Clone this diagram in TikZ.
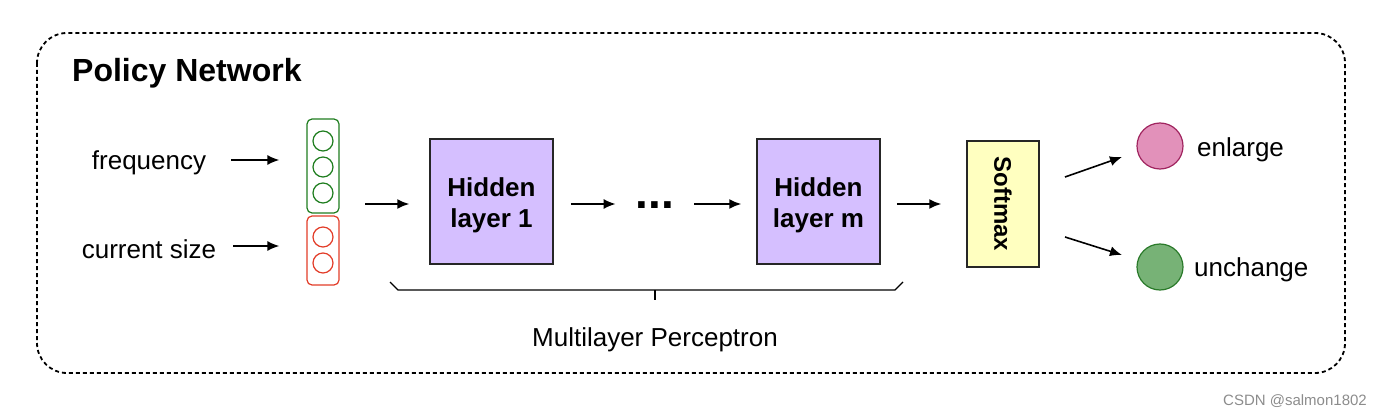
\documentclass[tikz,border=0pt]{standalone}
\usepackage{fontspec}
\setmainfont{Liberation Sans}
\usepackage{tikz}
\usetikzlibrary{arrows.meta}
\usetikzlibrary{positioning}

\definecolor{hiddenfill}{RGB}{213,191,255}
\definecolor{softfill}{RGB}{255,255,192}
\definecolor{ingreen}{RGB}{30,125,30}
\definecolor{inred}{RGB}{226,60,40}
\definecolor{pinkfill}{RGB}{226,145,186}
\definecolor{pinkdraw}{RGB}{160,36,95}
\definecolor{greenfill}{RGB}{119,178,118}
\definecolor{greendraw}{RGB}{42,122,42}

\tikzset{
  txt/.style={font=\fontsize{26}{31}\selectfont, inner sep=0pt},
  arr/.style={-{Latex[length=12pt,width=10pt]}, line width=1.6pt},
  neuron/.style={circle, line width=1.2pt, minimum size=20pt, inner sep=0pt},
  layerbox/.style={draw=black!85, line width=1.5pt, fill=hiddenfill, minimum width=123pt,
    minimum height=125pt},
  layertxt/.style={align=center, inner sep=0pt, font=\fontsize{26}{31}\selectfont\bfseries},
  outcircle/.style={circle, line width=1.2pt, minimum size=46pt, inner sep=0pt}
}

\begin{document}
\begin{tikzpicture}[x=1pt,y=-1pt]
  \useasboundingbox (0,0) rectangle (1382,417);

  % outer frame
  \draw[line width=1.8pt, dash pattern=on 4pt off 3pt, rounded corners=30pt]
    (37,33) rectangle (1345,373);
  \node[anchor=west, inner sep=0pt, font=\fontsize{32}{38}\selectfont\bfseries] (title) at (72,73) {Policy Network};

  % inputs
  \node[txt] (freq) at (149,163) {frequency};
  \node[txt] (size) at (149,249) {current size};

  \node[draw=ingreen, line width=1.2pt, rounded corners=5pt, minimum width=32pt, minimum height=94pt] (gbox) at (323,166) {};
  \node[draw=inred, line width=1.2pt, rounded corners=5pt, minimum width=32pt, minimum height=69pt] (rbox) at (323,250.5) {};
  \foreach \y [count=\i] in {141,167,193}
    {\node[neuron, draw=ingreen] (g\i) at (323,\y) {};}
  \foreach \y [count=\i] in {237,263}
    {\node[neuron, draw=inred] (r\i) at (323,\y) {};}

  \coordinate (fa) at ([yshift=3pt]freq.east);
  \coordinate (sa) at ([yshift=3pt]size.east);
  \draw[arr, shorten <=25pt, shorten >=27pt] (fa) -- (fa -| gbox.west);
  \draw[arr, shorten <=17pt, shorten >=27pt] (sa) -- (sa -| rbox.west);

  % multilayer perceptron
  \node[layerbox] (h1) at (491.5,201.5) {};
  \node[layerbox] (hm) at (818.5,201.5) {};
  \node[layertxt] (h1txt) at (491.5,205) {Hidden\\layer 1};
  \node[layertxt] (hmtxt) at (818.5,205) {Hidden\\layer m};
  \node[anchor=base, inner sep=0pt, font=\fontsize{46}{46}\selectfont\bfseries] (dots) at (655,208) {...};
  \coordinate (incol) at (339,204);

  \draw[arr, shorten <=26pt, shorten >=20pt] (incol) -- (h1.west |- incol);
  \draw[arr, shorten <=17pt, shorten >=20pt] (h1.east |- incol) -- (dots.west |- incol);
  \draw[arr, shorten <=20pt, shorten >=15pt] (dots.east |- incol) -- (hm.west |- incol);

  % brace
  \draw[line width=1.2pt] (390,282) -- (398,290) -- (895,290) -- (903,282);
  \draw[line width=1.2pt] (655,290) -- (655,300);
  \node[txt] (mlp) at (655,340) {Multilayer Perceptron};

  % softmax
  \node[draw=black!85, line width=1.5pt, fill=softfill, minimum width=72pt, minimum height=126pt] (soft) at (1003,204) {};
  \node[rotate=-90, inner sep=0pt, font=\fontsize{24}{28}\selectfont\bfseries] (softtxt) at (soft) {Softmax};
  \draw[arr, shorten <=16pt, shorten >=25pt] (hm.east |- incol) -- (soft.west |- incol);

  % outputs
  \node[outcircle, draw=pinkdraw, fill=pinkfill] (enl) at (1160,146) {};
  \node[outcircle, draw=greendraw, fill=greenfill] (unc) at (1160,267) {};
  \node[txt, anchor=west] (enltxt) at (1197,150) {enlarge};
  \node[txt, anchor=west] (unctxt) at (1194,270) {unchange};

  \coordinate (s1) at (1065,177);
  \coordinate (e1) at (1122,157);
  \coordinate (s2) at (1065,237);
  \coordinate (e2) at (1122,255);
  \draw[arr] (s1) -- (e1);
  \draw[arr] (s2) -- (e2);

  % watermark
  \node[anchor=east, inner sep=0pt, text=black!45, font=\fontsize{15}{18}\selectfont] (mark) at (1367,401) {CSDN @salmon1802};
\end{tikzpicture}
\end{document}
